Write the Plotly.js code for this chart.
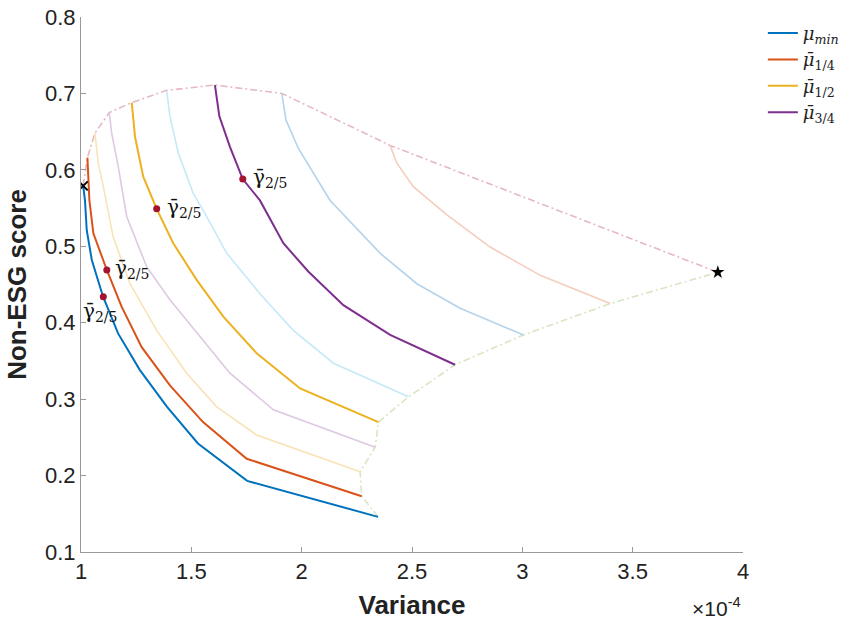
<!DOCTYPE html>
<html>
<head>
<meta charset="utf-8">
<script src="https://cdn.plot.ly/plotly-3.0.1.min.js"></script>
<style>html,body{margin:0;padding:0;background:#fff;}#chart{width:843px;height:625px;}</style>
</head>
<body>
<div id="chart"></div>
<script>
// Variance in units of 1e-4, Non-ESG score
const blueX   = [1.010, 1.018, 1.026, 1.049, 1.100, 1.168, 1.267, 1.390, 1.530, 1.753, 2.346];
const blueY   = [0.579, 0.560, 0.521, 0.482, 0.434, 0.386, 0.338, 0.290, 0.242, 0.193, 0.146];
const orangeX = [1.029, 1.038, 1.056, 1.117, 1.184, 1.275, 1.403, 1.553, 1.751, 2.272];
const orangeY = [0.616, 0.560, 0.517, 0.469, 0.421, 0.368, 0.318, 0.270, 0.222, 0.173];
const paleYellowX = [1.063, 1.078, 1.101, 1.146, 1.222, 1.343, 1.479, 1.615, 1.796, 2.265];
const paleYellowY = [0.648, 0.609, 0.578, 0.512, 0.451, 0.390, 0.334, 0.290, 0.253, 0.205];
const palePurpleX = [1.128, 1.139, 1.169, 1.207, 1.298, 1.403, 1.539, 1.675, 1.872, 2.333];
const palePurpleY = [0.675, 0.648, 0.604, 0.539, 0.473, 0.430, 0.382, 0.334, 0.286, 0.237];
const yellowX = [1.230, 1.245, 1.282, 1.343, 1.418, 1.524, 1.645, 1.796, 1.993, 2.348];
const yellowY = [0.688, 0.643, 0.591, 0.549, 0.504, 0.456, 0.408, 0.360, 0.314, 0.270];
const paleCyanX = [1.388, 1.403, 1.441, 1.509, 1.554, 1.660, 1.811, 1.962, 2.144, 2.484];
const paleCyanY = [0.704, 0.670, 0.622, 0.569, 0.547, 0.491, 0.438, 0.390, 0.347, 0.303];
const purpleX = [1.607, 1.627, 1.675, 1.733, 1.811, 1.917, 2.030, 2.189, 2.401, 2.695];
const purpleY = [0.711, 0.670, 0.630, 0.588, 0.560, 0.504, 0.467, 0.423, 0.384, 0.345];
const paleBlueX = [1.910, 1.929, 1.985, 2.129, 2.355, 2.522, 2.718, 3.005];
const paleBlueY = [0.700, 0.665, 0.628, 0.560, 0.491, 0.451, 0.419, 0.384];
const paleOrangeX = [2.401, 2.431, 2.506, 2.658, 2.854, 3.081, 3.398];
const paleOrangeY = [0.632, 0.609, 0.578, 0.541, 0.499, 0.462, 0.425];

const starX = [3.886], starY = [0.466];
const crossX = [1.010], crossY = [0.579];

// gamma 2/5 points
const gammaX = [1.733, 1.343, 1.117, 1.101];
const gammaY = [0.588, 0.549, 0.469, 0.434];
const gammaLabel = "γ̄<sub>2/5</sub>";

const legendNames = ["<i>μ</i><sub><i>min</i></sub>", "<i>μ̄</i><sub>1/4</sub>", "<i>μ̄</i><sub>1/2</sub>", "<i>μ̄</i><sub>3/4</sub>"];

const xTicks = [1, 1.5, 2, 2.5, 3, 3.5, 4];
const xTickText = ["1", "1.5", "2", "2.5", "3", "3.5", "4"];
const yTicks = [0.1, 0.2, 0.3, 0.4, 0.5, 0.6, 0.7, 0.8];
const yTickText = ["0.1", "0.2", "0.3", "0.4", "0.5", "0.6", "0.7", "0.8"];

// curves in order from left to right
const curves = [
  {x: blueX, y: blueY, color: "#0072BD", w: 2, name: legendNames[0], legend: true},
  {x: orangeX, y: orangeY, color: "#D95319", w: 2, name: legendNames[1], legend: true},
  {x: paleYellowX, y: paleYellowY, color: "#F9E3B6", w: 1.6},
  {x: palePurpleX, y: palePurpleY, color: "#DEC8E2", w: 1.6},
  {x: yellowX, y: yellowY, color: "#EDB120", w: 2, name: legendNames[2], legend: true},
  {x: paleCyanX, y: paleCyanY, color: "#C6E9F8", w: 1.6},
  {x: purpleX, y: purpleY, color: "#7E2F8E", w: 2, name: legendNames[3], legend: true},
  {x: paleBlueX, y: paleBlueY, color: "#B5D3EA", w: 1.6},
  {x: paleOrangeX, y: paleOrangeY, color: "#F5CDBC", w: 1.6}
];

// boundaries built from curve start / end points
const topX = [crossX[0]].concat(curves.slice(1).map(c => c.x[0]), starX);
const topY = [crossY[0]].concat(curves.slice(1).map(c => c.y[0]), starY);
const botX = curves.map(c => c.x[c.x.length - 1]).concat(starX);
const botY = curves.map(c => c.y[c.y.length - 1]).concat(starY);

const traces = [];
traces.push({x: topX, y: topY, mode: "lines", line: {color: "#E6B8C3", width: 1.6, dash: "7px,3px,2px,3px"}, showlegend: false, hoverinfo: "skip"});
traces.push({x: botX, y: botY, mode: "lines", line: {color: "#D8E6C3", width: 1.6, dash: "7px,3px,2px,3px"}, showlegend: false, hoverinfo: "skip"});
curves.filter(c => !c.legend).forEach(c => traces.push({x: c.x, y: c.y, mode: "lines", line: {color: c.color, width: c.w}, showlegend: false}));
curves.filter(c => c.legend).forEach(c => traces.push({x: c.x, y: c.y, mode: "lines", line: {color: c.color, width: c.w}, name: c.name, showlegend: true}));
traces.push({x: gammaX, y: gammaY, mode: "markers", marker: {color: "#A2142F", size: 7}, showlegend: false});
traces.push({x: crossX, y: crossY, mode: "markers", marker: {color: "#000", size: 9, symbol: "x-thin", line: {width: 2, color: "#000"}}, showlegend: false});
traces.push({x: starX, y: starY, mode: "markers", marker: {color: "#000", size: 10, symbol: "star"}, showlegend: false});

const gFont = {family: "DejaVu Serif, Liberation Serif, serif", size: 20, color: "#111"};
const annotations = [
  {x: gammaX[0], y: gammaY[0], text: gammaLabel, showarrow: false, xanchor: "left", yanchor: "middle", xshift: 8, yshift: 1, font: gFont},
  {x: gammaX[1], y: gammaY[1], text: gammaLabel, showarrow: false, xanchor: "left", yanchor: "middle", xshift: 8, yshift: 1, font: gFont},
  {x: gammaX[2], y: gammaY[2], text: gammaLabel, showarrow: false, xanchor: "left", yanchor: "middle", xshift: 6, yshift: 1, font: gFont},
  {x: gammaX[3], y: gammaY[3], text: gammaLabel, showarrow: false, xanchor: "center", yanchor: "middle", xshift: -3, yshift: -15, font: gFont},
  {xref: "paper", yref: "paper", x: 1.0, y: -0.13, text: "×10<sup>-4</sup>", showarrow: false, xanchor: "right", yanchor: "bottom",
   font: {family: "Liberation Sans, Arial, sans-serif", size: 21, color: "#222"}}
];

const tickFont = {family: "Liberation Sans, Arial, sans-serif", size: 22, color: "#222"};
const layout = {
  width: 843, height: 625,
  margin: {l: 81, r: 100, t: 17, b: 73, autoexpand: false},
  paper_bgcolor: "#fff", plot_bgcolor: "#fff",
  showlegend: true,
  legend: {x: 1.03, y: 1.004, xanchor: "left", yanchor: "top", font: {family: "DejaVu Serif, Liberation Serif, serif", size: 18, color: "#222"},
           bgcolor: "rgba(0,0,0,0)", tracegroupgap: 0, itemwidth: 30},
  xaxis: {range: [1, 4], tickvals: xTicks, ticktext: xTickText, ticks: "inside", ticklen: 5, tickcolor: "#999",
          showline: true, linecolor: "#999", linewidth: 1, showgrid: false, zeroline: false, tickfont: tickFont, automargin: false,
          title: {text: "<b>Variance</b>", font: {family: "Liberation Sans, Arial, sans-serif", size: 26, color: "#222"}, standoff: 12}},
  yaxis: {range: [0.1, 0.8], tickvals: yTicks, ticktext: yTickText, ticks: "inside", ticklen: 5, tickcolor: "#999",
          showline: true, linecolor: "#999", linewidth: 1, showgrid: false, zeroline: false, tickfont: tickFont, automargin: false,
          title: {text: "<b>Non-ESG score</b>", font: {family: "Liberation Sans, Arial, sans-serif", size: 26, color: "#222"}, standoff: 10}},
  annotations: annotations
};

Plotly.newPlot("chart", traces, layout, {displayModeBar: false, staticPlot: true});
</script>
</body>
</html>
